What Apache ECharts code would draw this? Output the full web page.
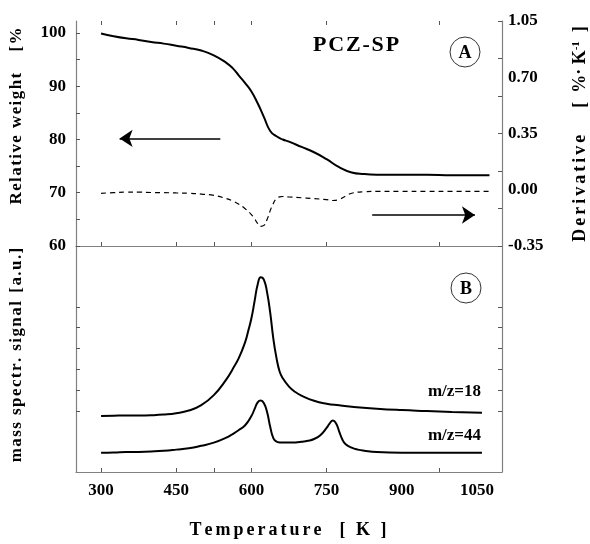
<!DOCTYPE html>
<html>
<head>
<meta charset="utf-8">
<script src="https://cdn.jsdelivr.net/npm/echarts@6/dist/echarts.min.js"></script>
<style>html,body{margin:0;padding:0;background:#fff}#c{width:590px;height:544px}</style>
</head>
<body>
<div id="c"></div>
<script>
// ---- data ----
const T_WEIGHT = [300,325,350,375,400,425,450,475,500,525,550,562.5,575,587.5,600,612.5,625,637.5,650,662.5,675,700,725,750,775,800,825,850,900,950,1000,1050,1075];
const WEIGHT   = [99.9,99.4,99.0,98.7,98.3,98.0,97.6,97.2,96.7,95.8,94.4,93.4,92.0,90.6,89.0,86.8,84.2,81.6,80.6,80.0,79.6,78.6,77.6,76.3,74.8,73.8,73.5,73.4,73.4,73.4,73.3,73.3,73.3];

const T_DERIV = [300,325,350,375,400,425,450,475,500,525,550,562.5,575,587.5,600,606.25,612.5,618.75,625,631.25,637.5,643.75,650,656.25,662.5,675,700,725,750,762.5,775,787.5,800,825,850,900,950,1000,1050,1075];
const DERIV   = [-0.022,-0.018,-0.015,-0.015,-0.017,-0.018,-0.02,-0.022,-0.027,-0.035,-0.055,-0.07,-0.09,-0.118,-0.155,-0.18,-0.21,-0.228,-0.222,-0.185,-0.13,-0.085,-0.055,-0.044,-0.042,-0.045,-0.05,-0.055,-0.062,-0.067,-0.06,-0.04,-0.022,-0.012,-0.01,-0.01,-0.01,-0.01,-0.01,-0.01];

const T_MS18 = [300,325,350,375,400,425,450,475,500,525,550,562.5,575,587.5,593.75,600,606.25,612.5,618.75,625,631.25,637.5,643.75,650,656.25,662.5,675,687.5,700,725,750,775,800,850,900,950,1000,1060];
const MS18   = [24.8,24.9,25.0,25.0,25.1,25.4,26.0,27.2,29.6,34.0,41.0,45.5,50.5,57.5,62.5,68.0,75.5,83.0,86.2,85.0,79.5,70.5,59.0,50.5,44.5,41.5,37.8,35.4,33.8,31.5,30.2,29.5,28.9,28.0,27.4,27.0,26.6,26.2];

const T_MS44 = [300,325,350,375,400,425,450,475,500,525,550,562.5,575,587.5,600,606.25,612.5,618.75,625,631.25,637.5,643.75,650,656.25,662.5,675,687.5,700,712.5,725,737.5,750,756.25,762.5,768.75,775,781.25,787.5,800,812.5,825,850,900,950,1000,1060];
const MS44   = [8.5,8.6,8.8,8.9,9.1,9.4,9.9,10.5,11.6,13.0,15.2,16.8,18.6,20.7,24.8,27.8,30.8,31.6,30.4,26.5,20.0,15.0,13.5,13.1,13.0,13.0,13.1,13.4,13.8,14.6,16.3,19.5,21.5,22.8,21.6,18.0,14.5,12.4,10.8,9.9,9.4,8.8,8.5,8.5,8.5,8.5];

const X_LABELS = [300,450,600,750,900,1050];
const X_TICKS  = [300,450,525,600,750,975];
const W_LABELS = [60,70,80,90,100];
const W_TICKS  = [60,65,70,75,80,85,90,95,100];
const D_LABELS = [-0.35,0,0.35,0.70,1.05];
const D_TICKS  = [-0.35,-0.1167,0.1167,0.35,0.5833,0.8167,1.05];
const MS_TICKS = [26.7,36,45.6,54.9,64.2,73.1];

// annotation arrows (data coordinates)
const ARROW_WEIGHT = [[538,80.2],[337,80.2]];
const ARROW_DERIV  = [[841,-0.157],[1046,-0.157]];

const FONT = 'Liberation Serif';
const sp = s => s.split('').join('\u200A');
const wide = s => s.split('').join('\u200A\u200A');

const axisLineStyle = {color:'#808080', width:1.2};
const tickStyle = {color:'#555', width:1};

const chart = echarts.init(document.getElementById('c'), null, {renderer:'canvas'});
const labelFont = {fontFamily:FONT, fontWeight:'bold', fontSize:17, color:'#000'};
const SMOOTH = 0.5;

chart.setOption({
  animation:false,
  backgroundColor:'#fff',
  grid:[
    {left:76, right:88, top:21, height:225},
    {left:76, right:88, top:246, height:226}
  ],
  xAxis:[
    {gridIndex:0, type:'value', min:250, max:1100, position:'bottom',
     axisLine:{show:true, lineStyle:axisLineStyle, onZero:false},
     axisTick:{show:true, inside:true, length:4, lineStyle:tickStyle, customValues:X_TICKS},
     axisLabel:{show:false}, splitLine:{show:false}},
    {gridIndex:0, type:'value', min:250, max:1100, position:'top',
     axisLine:{show:false, onZero:false},
     axisTick:{show:true, inside:true, length:4, lineStyle:tickStyle, customValues:X_TICKS},
     axisLabel:{show:false}, splitLine:{show:false}},
    {gridIndex:1, type:'value', min:250, max:1100, position:'bottom',
     axisLine:{show:true, lineStyle:axisLineStyle, onZero:false},
     axisTick:{show:true, inside:true, length:4, lineStyle:tickStyle, customValues:X_TICKS},
     axisLabel:Object.assign({show:true, margin:10, customValues:X_LABELS, formatter:v=>String(v)}, labelFont),
     splitLine:{show:false}}
  ],
  yAxis:[
    {gridIndex:0, type:'value', min:60, max:102.25, position:'left',
     axisLine:{show:true, lineStyle:axisLineStyle, onZero:false},
     axisTick:{show:true, inside:true, length:4, lineStyle:tickStyle, customValues:W_TICKS},
     axisLabel:Object.assign({show:true, margin:10, customValues:W_LABELS, formatter:v=>String(v)}, labelFont),
     splitLine:{show:false}},
    {gridIndex:0, type:'value', min:-0.35, max:1.05, position:'right',
     axisLine:{show:true, lineStyle:axisLineStyle, onZero:false},
     axisTick:{show:true, inside:true, length:4, lineStyle:tickStyle, customValues:D_TICKS},
     axisLabel:Object.assign({show:true, margin:6, customValues:D_LABELS,
       formatter:v=>Number(v).toFixed(2)}, labelFont),
     splitLine:{show:false}},
    {gridIndex:1, type:'value', min:0, max:100, position:'left',
     axisLine:{show:true, lineStyle:axisLineStyle, onZero:false},
     axisTick:{show:true, inside:true, length:4, lineStyle:tickStyle, customValues:MS_TICKS},
     axisLabel:{show:false}, splitLine:{show:false}},
    {gridIndex:1, type:'value', min:0, max:100, position:'right',
     axisLine:{show:true, lineStyle:axisLineStyle, onZero:false},
     axisTick:{show:true, inside:true, length:4, lineStyle:tickStyle, customValues:MS_TICKS},
     axisLabel:{show:false}, splitLine:{show:false}}
  ],
  series:[
    {type:'line', name:'weight', xAxisIndex:0, yAxisIndex:0, showSymbol:false,
     smooth:SMOOTH,
     data:T_WEIGHT.map((t,i)=>[t,WEIGHT[i]]),
     lineStyle:{color:'#000', width:2},
     markLine:{silent:true, symbol:['none','arrow'], symbolSize:13, label:{show:false},
       lineStyle:{color:'#000', width:1.5, type:'solid'},
       data:[[{coord:ARROW_WEIGHT[0]},{coord:ARROW_WEIGHT[1]}]]}},
    {type:'line', name:'derivative', xAxisIndex:0, yAxisIndex:1, showSymbol:false,
     smooth:SMOOTH,
     data:T_DERIV.map((t,i)=>[t,DERIV[i]]),
     lineStyle:{color:'#000', width:1.2, type:[5,4]},
     markLine:{silent:true, symbol:['none','arrow'], symbolSize:13, label:{show:false},
       lineStyle:{color:'#000', width:1.5, type:'solid'},
       data:[[{coord:ARROW_DERIV[0]},{coord:ARROW_DERIV[1]}]]}},
    {type:'line', name:'m/z=18', xAxisIndex:2, yAxisIndex:2, showSymbol:false,
     smooth:SMOOTH,
     data:T_MS18.map((t,i)=>[t,MS18[i]]),
     lineStyle:{color:'#000', width:2}},
    {type:'line', name:'m/z=44', xAxisIndex:2, yAxisIndex:2, showSymbol:false,
     smooth:SMOOTH,
     data:T_MS44.map((t,i)=>[t,MS44[i]]),
     lineStyle:{color:'#000', width:2}}
  ],
  graphic:[
    {type:'text', x:356, y:45, style:{text:sp('PCZ-SP'), font:'bold 22px "Liberation Serif"', fill:'#000', align:'center', verticalAlign:'middle'}},
    {type:'circle', shape:{cx:465, cy:52, r:15}, style:{fill:'#fff', stroke:'#333', lineWidth:1}},
    {type:'text', x:465, y:53, style:{text:'A', font:'bold 18px "Liberation Serif"', fill:'#000', align:'center', verticalAlign:'middle'}},
    {type:'circle', shape:{cx:466, cy:288, r:15}, style:{fill:'#fff', stroke:'#333', lineWidth:1}},
    {type:'text', x:466, y:289, style:{text:'B', font:'bold 18px "Liberation Serif"', fill:'#000', align:'center', verticalAlign:'middle'}},
    {type:'text', x:481, y:392, style:{text:'m/z=18', font:'bold 17px "Liberation Serif"', fill:'#000', align:'right', verticalAlign:'middle'}},
    {type:'text', x:481, y:436, style:{text:'m/z=44', font:'bold 17px "Liberation Serif"', fill:'#000', align:'right', verticalAlign:'middle'}},
    {type:'text', x:17, y:116, rotation:Math.PI/2, style:{text:sp('Relative weight') + '     ' + sp('[%'), font:'bold 17px "Liberation Serif"', fill:'#000', align:'center', verticalAlign:'middle'}},
    {type:'text', x:17, y:355, rotation:Math.PI/2, style:{text:sp('mass spectr. signal') + '  ' + sp('[a.u.]'), font:'bold 17px "Liberation Serif"', fill:'#000', align:'center', verticalAlign:'middle'}},
    {type:'text', x:580, y:134, rotation:Math.PI/2, style:{
      text:'{b|' + wide('Derivative') + '}      {b|[  %· K}{s|-1}{b|  ]}',
      font:'bold 18px "Liberation Serif"', fill:'#000', align:'center', verticalAlign:'middle',
      rich:{b:{fontFamily:FONT, fontWeight:'bold', fontSize:18}, s:{fontFamily:FONT, fontWeight:'bold', fontSize:11, verticalAlign:'top', padding:[0,0,8,0]}}}},
    {type:'text', x:288, y:530, style:{text:wide('Temperature') + '    ' + wide('[ K ]'), font:'bold 18px "Liberation Serif"', fill:'#000', align:'center', verticalAlign:'middle'}}
  ]
});
</script>
</body>
</html>
